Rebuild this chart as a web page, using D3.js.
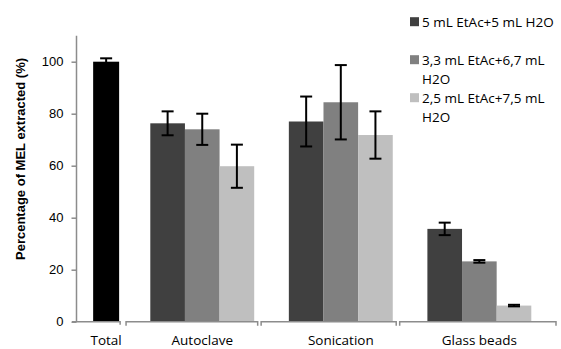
<!DOCTYPE html>
<html><head><meta charset="utf-8">
<script src="https://cdn.jsdelivr.net/npm/d3@7"></script>
<style>body{margin:0;background:#fff}svg{display:block}</style>
</head><body>
<svg id="c" width="561" height="349"></svg>
<script>
const categories = ["Total", "Autoclave", "Sonication", "Glass beads"];
const seriesNames = ["5 mL EtAc+5 mL H2O", "3,3 mL EtAc+6,7 mL H2O", "2,5 mL EtAc+7,5 mL H2O"];
const totalValue = [100];
const totalError = [1.3];
// values per series for Autoclave, Sonication, Glass beads
const series1 = [76.3, 77.0, 35.7];
const series1Err = [4.6, 9.6, 2.4];
const series2 = [74.0, 84.4, 23.2];
const series2Err = [6.0, 14.3, 0.5];
const series3 = [59.8, 71.8, 6.2];
const series3Err = [8.3, 9.1, 0.3];
const yTicks = [0, 20, 40, 60, 80, 100];
const yTitle = "Percentage of MEL extracted (%)";

const colors = ["#404040", "#808080", "#bfbfbf"];
const axisColor = "#8c8c8c";
const svg = d3.select("#c");

const y = d3.scaleLinear().domain([0, 110]).range([321.7, 35.7]);

// slot layout: Total occupies 0.75 slot, each other group 3 slots
const totalW = 0.75;
const groupStart = [0, 1.65, 5.65, 9.65];
const x = d3.scaleLinear().domain([1.65, 12.65]).range([150.3, 531.3]);

const bars = [];
bars.push({cat: 0, s0: groupStart[0], s1: groupStart[0] + totalW, v: totalValue[0], e: totalError[0], color: "#000"});
const sv = [series1, series2, series3], se = [series1Err, series2Err, series3Err];
for (let g = 1; g < 4; g++) {
  for (let s = 0; s < 3; s++) {
    bars.push({cat: g, s0: groupStart[g] + s, s1: groupStart[g] + s + 1, v: sv[s][g - 1], e: se[s][g - 1], color: colors[s]});
  }
}

svg.append("g").selectAll("rect").data(bars).join("rect")
  .attr("x", d => x(d.s0)).attr("width", d => x(d.s1) - x(d.s0))
  .attr("y", d => y(d.v)).attr("height", d => y(0) - y(d.v))
  .attr("fill", d => d.color);

// error bars
const eb = svg.append("g").attr("stroke", "#000").attr("stroke-width", 2);
bars.forEach(d => {
  const cx = (x(d.s0) + x(d.s1)) / 2;
  eb.append("line").attr("x1", cx).attr("x2", cx).attr("y1", y(d.v + d.e)).attr("y2", y(d.v - d.e));
  [d.v + d.e, d.v - d.e].forEach(v => {
    eb.append("line").attr("x1", cx - 6).attr("x2", cx + 6).attr("y1", y(v)).attr("y2", y(v));
  });
});

// y axis
const yAxis = d3.axisLeft(y).tickValues(yTicks).tickSize(5).tickPadding(8);
const ya = svg.append("g").attr("transform", "translate(76.5,0)").call(yAxis);
ya.select(".domain").attr("stroke", axisColor).attr("stroke-width", 1.5).attr("d", `M0,${y(110)}V${y(0)}`);
ya.selectAll(".tick line").attr("stroke", axisColor).attr("stroke-width", 1.5);
ya.selectAll(".tick text").attr("font-family", "Liberation Sans, Arial, sans-serif").attr("font-size", 13).attr("fill", "#000");

svg.append("text").attr("transform", `translate(25,159) rotate(-90)`)
  .attr("text-anchor", "middle").attr("font-family", "Liberation Sans, Arial, sans-serif")
  .attr("font-weight", "bold").attr("font-size", 13).text(yTitle);

// category brackets
const ax = svg.append("g").attr("stroke", axisColor).attr("stroke-width", 1.5).attr("fill", "none");
const y0 = y(0);
const groupEnd = g => g === 0 ? groupStart[0] + totalW : groupStart[g] + 3;
for (let g = 0; g < 4; g++) {
  let xs, xe;
  if (g === 0) { xs = 72; xe = x(groupEnd(0)) + 1; }
  else { xs = x(groupEnd(g - 1) + 0.2); xe = g === 3 ? 556 : x(groupEnd(g) + 0.1); }
  const p = g === 0 ? `M${xs},${y0}H${xe}V${y0 + 3}` : `M${xs},${y0 + 4}V${y0}H${xe}V${y0 + 4}`;
  ax.append("path").attr("d", p);
}

// category labels
svg.append("g").selectAll("text").data(categories).join("text")
  .attr("x", (d, g) => (x(groupStart[g]) + x(groupEnd(g))) / 2)
  .attr("y", 345).attr("text-anchor", "middle")
  .attr("font-family", "Open Sans, sans-serif").attr("font-size", 13.5).text(d => d);

// legend
const lg = svg.append("g");
seriesNames.forEach((name, i) => {
  const cy = 21.7 + 38 * i;
  lg.append("rect").attr("x", 410).attr("y", cy - 4.5).attr("width", 9).attr("height", 9).attr("fill", colors[i]);
  const t = lg.append("text").attr("font-family", "Open Sans, sans-serif").attr("font-size", 13.5);
  const words = name.split(" ");
  let line = [], lines = [];
  const probe = t.append("tspan");
  words.forEach(w => {
    const test = line.concat([w]).join(" ");
    probe.text(test);
    if (probe.node().getComputedTextLength() > 140 && line.length) { lines.push(line.join(" ")); line = [w]; }
    else line.push(w);
  });
  lines.push(line.join(" "));
  probe.remove();
  lines.forEach((l, k) => t.append("tspan").attr("x", 422).attr("y", cy + 5 + k * 19).text(l));
});
</script>
</body></html>
